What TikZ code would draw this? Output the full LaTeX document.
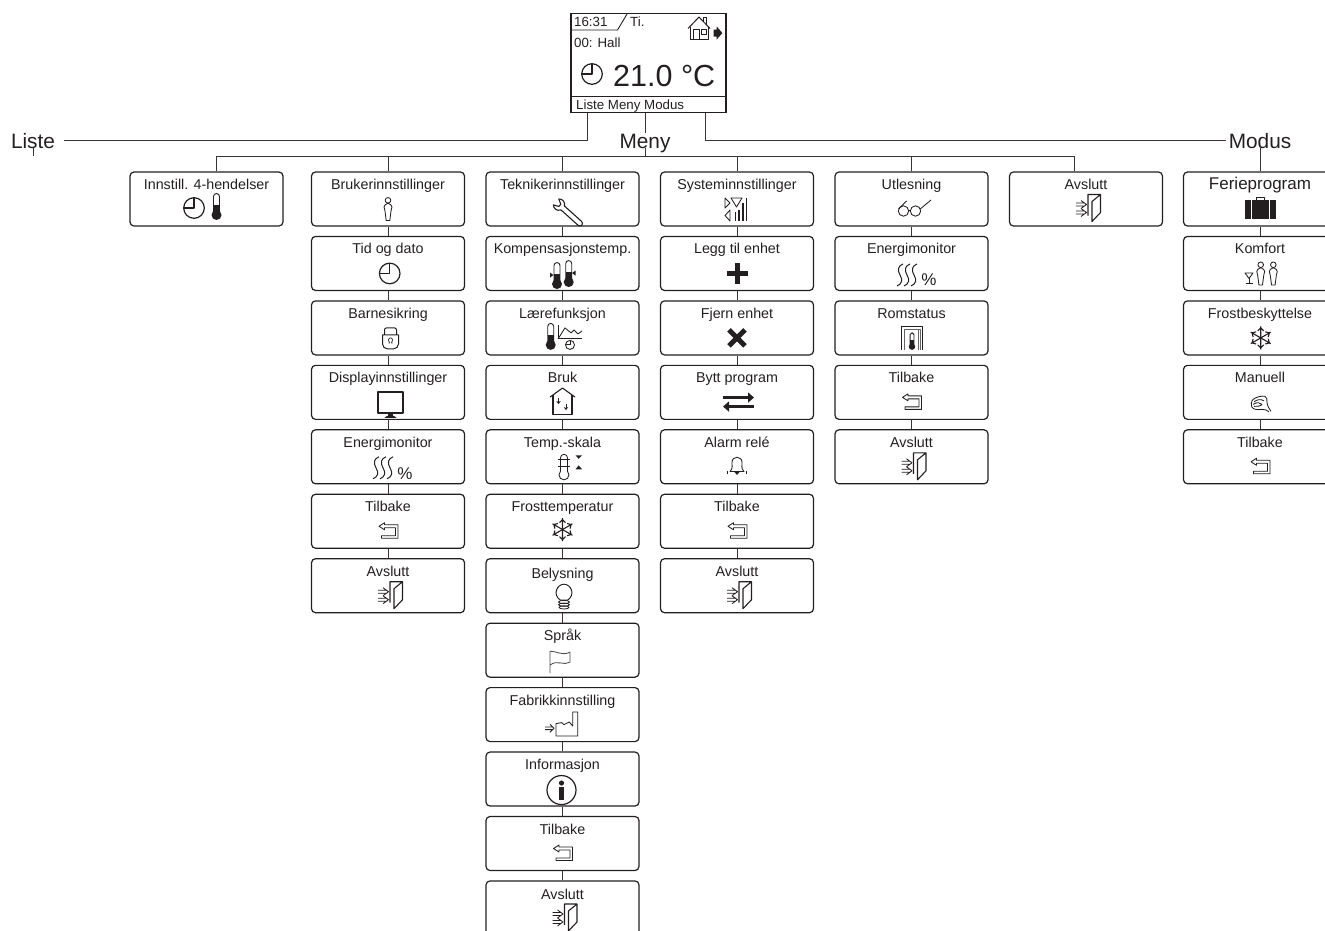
\documentclass[tikz,border=0pt]{standalone}
\usepackage{fontspec}
\setmainfont{Liberation Sans}
\usepackage{tikz}
\usetikzlibrary{arrows.meta, positioning}
\definecolor{ink}{HTML}{231F20}
\tikzstyle{link}=[line width=0.9pt, color=ink!90]
\tikzstyle{icon}=[line width=1.1pt, color=ink, line join=round]
\tikzstyle{iconthin}=[line width=0.85pt, color=ink, line join=round]

% Icons, each drawn round its own middle
\tikzset{
  clockicon/.pic={
    \draw[icon, line width=1.2pt] (0,0) circle[radius=10.3];
    \draw[icon] (0,10) -- (0,0) -- (-10,0);
  },
  thermoicon/.pic={
    \draw[iconthin, line width=0.9pt] (-3,-5) -- (-3,10.5) arc[start angle=180, end angle=0, radius=3] -- (3,-5);
    \fill[ink] (-3,2) rectangle (3,-7);
    \fill[ink] (0,-8) circle[radius=5];
  },
  personicon/.pic={
    \draw[iconthin] (0,8.7) circle[radius=2.8];
    \draw[iconthin] (0,5.8) .. controls (-5.5,4) and (-4,0) .. (-3,-2) -- (-1.8,-11.5) -- (1.8,-11.5) -- (3,-2) .. controls (4,0) and (5.5,4) .. cycle;
  },
  wrenchicon/.pic={
    \draw[icon, rotate=-42] (-3,-2.6) -- (20,-2.6) arc[start angle=-90, end angle=90, radius=2.6] -- (-3,2.6)
      .. controls (-5,6.5) and (-10,6.5) .. (-12,4) -- (-7,1.5) -- (-7,-1.5) -- (-12,-4)
      .. controls (-10,-6.5) and (-5,-6.5) .. cycle;
  },
  signalicon/.pic={
    \draw[iconthin] (-11.5,11) -- (-11.5,1) -- (-6.5,6) -- cycle;
    \draw[iconthin] (-6.5,-1) -- (-6.5,-12) -- (-11.5,-6.5) -- cycle;
    \draw[iconthin] (-5.5,11) -- (5.5,11) -- (0,2) -- cycle;
    \draw[icon, line width=1.3pt] (-1,-12) -- (-1,-3) (2.5,-12) -- (2.5,-1) (6.5,-12) -- (6.5,6) (10.3,-12) -- (10.3,11);
  },
  plusicon/.pic={
    \draw[ink, line width=5pt] (-10.5,0) -- (10.5,0) (0,-10.5) -- (0,10.5);
  },
  crossicon/.pic={
    \draw[ink, line width=5pt] (-8,8) -- (8,-8) (-8,-8) -- (8,8);
  },
  swapicon/.pic={
    \draw[ink, line width=2.4pt, -{Triangle[length=6pt, width=10pt]}] (-15.5,4.5) -- (15.5,4.5);
    \draw[ink, line width=2.4pt, -{Triangle[length=6pt, width=10pt]}] (15.5,-4.5) -- (-15.5,-4.5);
  },
  bellicon/.pic={
    \draw[iconthin] (-7,-5) .. controls (-4,-2) and (-5,1) .. (-5,4) .. controls (-5,11) and (5,11) .. (5,4)
      .. controls (5,1) and (4,-2) .. (7,-5) -- cycle;
    \fill[ink] (-2.5,-5.5) -- (2.5,-5.5) -- (0,-8.5) -- cycle;
    \draw[iconthin] (-9.5,-4) arc[start angle=160, end angle=200, radius=5];
    \draw[iconthin] (9.5,-4) arc[start angle=20, end angle=-20, radius=5];
  },
  backicon/.pic={
    \draw[iconthin] (-9.5,4.5) -- (-4,8) -- (-4,6) -- (9.5,6) -- (9.5,-7.5) -- (-7,-7.5) -- (-7,-5) -- (7,-5) -- (7,3) -- (-4,3) -- (-4,1) -- cycle;
  },
  dooricon/.pic={
    \draw[icon] (-1,-7) -- (-1,14) -- (11.5,14) -- (11.5,-4) -- (3,-13) -- (3,7) -- (11.5,14);
    \draw[iconthin] (-13,5.5) -- (-5,5.5) (-13,2.5) -- (-5,2.5) (-8,8) -- (-2.5,4) -- (-8,0);
    \draw[iconthin] (-13,-2.5) -- (-5,-2.5) (-13,-5.5) -- (-5,-5.5) (-8,0) -- (-2.5,-4) -- (-8,-8);
  },
  lockicon/.pic={
    \draw[iconthin, line width=1pt] (-6,3) -- (-6,8) arc[start angle=180, end angle=90, radius=2] -- (4,10)
      arc[start angle=90, end angle=0, radius=2] -- (6,3);
    \draw[iconthin, line width=1pt] (-8,3) -- (8,3) -- (8,-6) arc[start angle=0, end angle=-90, radius=5] -- (-3,-11)
      arc[start angle=-90, end angle=-180, radius=5] -- cycle;
    \draw[iconthin, line width=0.7pt] (-2,-5) -- (-1,-5) -- (-2,-2) arc[start angle=180, end angle=0, radius=2] -- (1,-5) -- (2,-5);
  },
  screenicon/.pic={
    \draw[icon, line width=1.9pt] (-12.7,10.5) rectangle (12.7,-10);
    \fill[ink] (-2.5,-11) rectangle (2.5,-13);
    \fill[ink] (-6,-15) -- (-3.5,-13) -- (3.5,-13) -- (6,-15) -- cycle;
  },
  wavesicon/.pic={
    \draw[iconthin, line width=1pt] (-4,11) .. controls (-9,9) and (-10,5) .. (-7,0) .. controls (-4,-5) and (-5,-9) .. (-10,-11);
    \draw[iconthin, line width=1pt] (3,11) .. controls (-2,9) and (-3,5) .. (0,0) .. controls (3,-5) and (2,-9) .. (-3,-11);
    \draw[iconthin, line width=1pt] (10,11) .. controls (5,9) and (4,5) .. (7,0) .. controls (10,-5) and (9,-9) .. (4,-11);
  },
  twothermoicon/.pic={
    \pic at (-6,-2) {thermoicon};
    \pic at (5.7,0) {thermoicon};
    \fill[ink] (-13,1.5) -- (-9.5,-1) -- (-13,-3.5) -- cycle;
    \fill[ink] (12.5,3.5) -- (9,1) -- (12.5,-1.5) -- cycle;
  },
  learnicon/.pic={
    \pic at (-14.3,0) {thermoicon};
    \draw[iconthin] (-7,12) -- (-7,-2) -- (17,-2);
    \draw[iconthin] (-7,-2) -- (0,9) -- (6,4) -- (9,7) -- (13,3) -- (17,6);
    \draw[iconthin] (5,-8) circle[radius=4.5];
    \draw[iconthin] (5,-4) -- (5,-8) -- (1,-8);
  },
  houseicon/.pic={
    \draw[icon] (-12.5,4) -- (0,13) -- (12.5,4);
    \draw[icon] (-9.5,6) -- (-9.5,-13) -- (9.5,-13) -- (9.5,6);
    \draw[iconthin, -{Stealth[length=3pt, width=4.5pt]}] (-4,3) -- (-4,-3);
    \draw[iconthin, -{Stealth[length=3pt, width=4.5pt]}] (3.5,-3) -- (3.5,-9);
  },
  scaleicon/.pic={
    \draw[iconthin] (-3.5,-4.5) -- (-3.5,9) arc[start angle=180, end angle=0, radius=3.5] -- (3.5,-4.5)
      arc[start angle=45, end angle=-225, radius=5] -- cycle;
    \draw[iconthin] (-6,7) -- (6,7) (-6,0) -- (6,0);
    \fill[ink] (11.5,11.5) -- (18,11.5) -- (14.7,8) -- cycle;
    \fill[ink] (11.5,-2.5) -- (18,-2.5) -- (14.7,1.5) -- cycle;
  },
  frosticon/.pic={
    \foreach \ang in {30,90,150,210,270,330}
      \draw[iconthin, line width=1.1pt, rotate=\ang] (0,0) -- (11.5,0) (7,3) -- (10,0) -- (7,-3);
  },
  bulbicon/.pic={
    \draw[iconthin, line width=0.95pt] (-3.5,-3.5) .. controls (-12,2) and (-7,12.5) .. (0,12.5)
      .. controls (7,12.5) and (12,2) .. (3.5,-3.5) -- cycle;
    \draw[iconthin] (0,-5.3) ellipse[x radius=5.5, y radius=1.6];
    \draw[iconthin] (0,-8) ellipse[x radius=5.5, y radius=1.6];
    \draw[iconthin] (0,-10.7) ellipse[x radius=5, y radius=1.6];
  },
  flagicon/.pic={
    \draw[iconthin, color=ink!80] (-10,-11) -- (-10,11) .. controls (-3,11) and (2,6) .. (10,10) -- (10,0)
      .. controls (4,-4) and (-3,3) .. (-10,-3);
  },
  factoryicon/.pic={
    \draw[iconthin] (-5,4.7) -- (0.7,5.7) -- (3,3.7) -- (8.3,6.3) -- (11.7,2.3) -- (11.7,16.3) -- (16.7,16.3) -- (16.7,-7.7) -- (-5,-7.7) -- cycle;
    \draw[iconthin] (-16,1.3) -- (-8,1.3) (-16,-1.3) -- (-8,-1.3) (-11,4) -- (-7,0) -- (-11,-4);
  },
  infoicon/.pic={
    \draw[icon, line width=1.2pt] (0,0) circle[radius=14.5];
    \fill[ink] (0,7) circle[radius=2.6];
    \fill[ink] (-2.4,3) rectangle (2.4,-10);
  },
  glassesicon/.pic={
    \draw[iconthin] (-10.5,-2) circle[radius=5.2] (1.5,-2) circle[radius=5.2];
    \draw[iconthin] (-5.5,-1) -- (-3.5,-1);
    \draw[iconthin] (6.2,0) -- (17,9);
    \draw[iconthin] (-15.5,0) -- (-7.5,8);
  },
  caseicon/.pic={
    \fill[ink] (-15.5,9.5) rectangle (15.5,-10);
    \draw[icon] (-4,9.5) -- (-4,11.5) -- (4,11.5) -- (4,9.5);
    \draw[white, line width=0.6pt] (-9,9.5) -- (-9,-10) (9,9.5) -- (9,-10);
  },
  partyicon/.pic={
    \pic at (0.7,1) {personicon};
    \pic at (13.3,1) {personicon};
    \draw[iconthin] (-15,1.5) -- (-7,1.5) -- (-11,-4) -- cycle;
    \draw[iconthin] (-11,-4) -- (-11,-9) (-14.5,-9) -- (-7.5,-9);
  },
  handicon/.pic={
    \draw[iconthin] (10,-7) .. controls (8,-4) and (6.5,-2) .. (6,2) .. controls (6,5) and (6,7) .. (4,8)
      .. controls (0,9) and (-5,7) .. (-8,5) .. controls (-10,3) and (-10,-1) .. (-9,-3)
      .. controls (-7,-5.5) and (-3,-5.5) .. (1,-5) .. controls (4,-5) and (7,-6) .. (8,-7.5);
    \draw[iconthin] (-7,2.5) .. controls (-4,5) and (0,5.5) .. (3,3.5);
    \draw[iconthin] (-8,0) .. controls (-4,2.5) and (-1,2) .. (1,0) .. controls (0,-2) and (-4,-2) .. (-7,-2);
  },
  roomicon/.pic={
    \draw[iconthin] (-10.5,-11.5) -- (-10.5,11.5) -- (10.5,11.5) -- (10.5,-11.5);
    \draw[iconthin, color=ink!70] (-8,-11.5) -- (-8,9) -- (8,9) -- (8,-11.5);
    \draw[iconthin, color=ink!70] (6,-11.5) -- (6,9);
    \pic[scale=0.65] at (0,-3) {thermoicon};
  },
  homeicon/.pic={
    \draw[iconthin, line width=1pt] (-11,4) -- (0,15.5) -- (11,4);
    \draw[iconthin] (-9,5.5) -- (-9,-6.5) -- (9,-6.5) -- (9,5.5);
    \draw[iconthin] (-6,-6.5) -- (-6,3) -- (0.5,3) -- (0.5,-6.5);
    \draw[iconthin] (2,3) rectangle (7,-2);
    \draw[iconthin] (4,11) -- (4,15.5) -- (7,15.5) -- (7,8);
    \fill[ink] (14.7,3) -- (17.7,3) -- (17.7,6) -- (23.4,-0.5) -- (17.7,-7) -- (17.7,-4) -- (14.7,-4) -- cycle;
  }
}

\begin{document}
\begin{tikzpicture}[x=1pt, y=1pt, node distance=9.25pt,
  menubox/.style={rectangle, rounded corners=4pt, draw=ink, line width=1.2pt,
                  minimum width=153pt, text height=13.5pt, text depth=32.5pt,
                  inner ysep=4pt, inner xsep=1pt, align=center, text=ink,
                  font=\fontsize{14.3}{16}\selectfont},
  bigbox/.style={menubox, font=\fontsize{17}{19}\selectfont},
  branch/.style={text=ink, text height=15pt, text depth=0pt, inner ysep=0pt,
                 inner xsep=3pt, font=\fontsize{20.8}{23}\selectfont},
  screentext/.style={text=ink, inner sep=0pt, anchor=base west,
                     font=\fontsize{13.3}{15}\selectfont},
  pct/.style={text=ink, inner sep=0pt, font=\fontsize{17}{19}\selectfont}
]
\useasboundingbox (0,0) rectangle (1325,-930);

% Display at the top
\node[rectangle, draw=ink, line width=1.2pt, minimum width=155pt, minimum height=99.5pt] (display) at (648.5,-63) {};
\node[screentext] (disptime) at (574,-26.5) {16:31};
\node[screentext] (dispday) at (630,-26.5) {Ti.};
\node[screentext] (disproom) at (574,-47) {00: Hall};
\node[screentext, font=\fontsize{30.5}{33}\selectfont] (disptemp) at (613,-86) {21.0 °C};
\node[screentext] (dispmenu) at (576,-109) {Liste Meny Modus};
\draw[icon] (571,-96.7) -- (726,-96.7);
\draw[iconthin, line width=0.9pt] (571,-30) -- (617.5,-30) -- (627,-14);
\pic at (592,-74) {clockicon};
\pic at (699,-32.5) {homeicon};

% Branch labels
\node[branch, inner xsep=9pt] (liste) at (33,-140.7) {Liste};
\node[branch] (meny) at (645,-140.7) {Meny};
\node[branch] (modus) at (1260,-140.7) {Modus};
\coordinate (listeend) at (33,-156);
\coordinate (menybar) at (645,-156);

% Column 1: Liste
\node[menubox] (hendelser) at (206.5,-199) {Innstill. 4-hendelser};
\pic at ([xshift=-12.5,yshift=-9]hendelser.center) {clockicon};
\pic at ([xshift=10,yshift=-8]hendelser.center) {thermoicon};

% Column 2: Brukerinnstillinger
\node[menubox] (bruker) at (388,-199) {Brukerinnstillinger};
\node[menubox, below=of bruker] (tid) {Tid og dato};
\node[menubox, below=of tid] (barne) {Barnesikring};
\node[menubox, below=of barne] (skjerm) {Displayinnstillinger};
\node[menubox, below=of skjerm] (energi) {Energimonitor};
\node[menubox, below=of energi] (tilbakeA) {Tilbake};
\node[menubox, below=of tilbakeA] (avsluttA) {Avslutt};
\pic at ([yshift=-10]bruker.center) {personicon};
\pic at ([xshift=1.7,yshift=-10]tid.center) {clockicon};
\pic at ([xshift=2.5,yshift=-10]barne.center) {lockicon};
\pic at ([xshift=2.5,yshift=-10.5]skjerm.center) {screenicon};
\pic at ([xshift=-5,yshift=-11]energi.center) {wavesicon};
\node[pct] (pctA) at ([xshift=17,yshift=-17]energi.center) {\%};
\pic at ([xshift=0.5,yshift=-9.5]tilbakeA.center) {backicon};
\pic at ([xshift=3,yshift=-10]avsluttA.center) {dooricon};

% Column 3: Teknikerinnstillinger
\node[menubox] (tekniker) at (562.5,-199) {Teknikerinnstillinger};
\node[menubox, below=of tekniker] (kompens) {Kompensasjonstemp.};
\node[menubox, below=of kompens] (laere) {Lærefunksjon};
\node[menubox, below=of laere] (bruk) {Bruk};
\node[menubox, below=of bruk] (skala) {Temp.-skala};
\node[menubox, below=of skala] (frosttemp) {Frosttemperatur};
\node[menubox, below=of frosttemp, text height=16pt, text depth=30pt] (belys) {Belysning};
\node[menubox, below=of belys] (spraak) {Språk};
\node[menubox, below=of spraak] (fabrikk) {Fabrikkinnstilling};
\node[menubox, below=of fabrikk] (info) {Informasjon};
\node[menubox, below=of info] (tilbakeB) {Tilbake};
\node[menubox, below=of tilbakeB, text height=15pt, text depth=31pt] (avsluttB) {Avslutt};
\pic at ([xshift=2.5,yshift=-11]tekniker.center) {wrenchicon};
\pic at ([xshift=0.5,yshift=-10.6]kompens.center) {twothermoicon};
\pic at ([xshift=2.5,yshift=-9]laere.center) {learnicon};
\pic at ([yshift=-8.7]bruk.center) {houseicon};
\pic at ([xshift=1.5,yshift=-10]skala.center) {scaleicon};
\pic at ([yshift=-8.3]frosttemp.center) {frosticon};
\pic at ([xshift=1.5,yshift=-11]belys.center) {bulbicon};
\pic at ([xshift=-2.5,yshift=-12]spraak.center) {flagicon};
\pic at ([xshift=-1.5,yshift=-13.7]fabrikk.center) {factoryicon};
\pic at ([xshift=-1,yshift=-11]info.center) {infoicon};
\pic at ([xshift=0.5,yshift=-9.5]tilbakeB.center) {backicon};
\pic at ([xshift=3,yshift=-10]avsluttB.center) {dooricon};

% Column 4: Systeminnstillinger
\node[menubox] (system) at (737,-199) {Systeminnstillinger};
\node[menubox, below=of system] (legg) {Legg til enhet};
\node[menubox, below=of legg] (fjern) {Fjern enhet};
\node[menubox, below=of fjern] (bytt) {Bytt program};
\node[menubox, below=of bytt] (alarm) {Alarm relé};
\node[menubox, below=of alarm] (tilbakeC) {Tilbake};
\node[menubox, below=of tilbakeC] (avsluttC) {Avslutt};
\pic at ([xshift=-0.5,yshift=-10]system.center) {signalicon};
\pic at ([xshift=0.5,yshift=-9.6]legg.center) {plusicon};
\pic at ([yshift=-10]fjern.center) {crossicon};
\pic at ([xshift=1.5,yshift=-9.7]bytt.center) {swapicon};
\pic at ([yshift=-9.7]alarm.center) {bellicon};
\pic at ([xshift=0.5,yshift=-9.5]tilbakeC.center) {backicon};
\pic at ([xshift=3,yshift=-10]avsluttC.center) {dooricon};

% Column 5: Utlesning
\node[menubox] (utles) at (911.5,-199) {Utlesning};
\node[menubox, below=of utles] (energiB) {Energimonitor};
\node[menubox, below=of energiB] (romstatus) {Romstatus};
\node[menubox, below=of romstatus] (tilbakeD) {Tilbake};
\node[menubox, below=of tilbakeD] (avsluttD) {Avslutt};
\pic at ([xshift=2.5,yshift=-10]utles.center) {glassesicon};
\pic at ([xshift=-4.5,yshift=-11.5]energiB.center) {wavesicon};
\node[pct] (pctB) at ([xshift=17.4,yshift=-16.5]energiB.center) {\%};
\pic at ([xshift=0.5,yshift=-10.5]romstatus.center) {roomicon};
\pic at ([xshift=0.5,yshift=-9.5]tilbakeD.center) {backicon};
\pic at ([xshift=3,yshift=-10]avsluttD.center) {dooricon};

% Column 6: Avslutt
\node[menubox] (avsluttE) at (1086,-199) {Avslutt};
\pic at ([xshift=3,yshift=-9.5]avsluttE.center) {dooricon};

% Column 7: Modus
\node[bigbox] (ferie) at (1260,-199) {Ferieprogram};
\node[menubox, below=of ferie] (komfort) {Komfort};
\node[menubox, below=of komfort] (frost) {Frostbeskyttelse};
\node[menubox, below=of frost] (manuell) {Manuell};
\node[menubox, below=of manuell] (tilbakeF) {Tilbake};
\pic at ([xshift=0.5,yshift=-10]ferie.center) {caseicon};
\pic at ([yshift=-11]komfort.center) {partyicon};
\pic at ([xshift=0.7,yshift=-10]frost.center) {frosticon};
\pic at ([xshift=1,yshift=-12]manuell.center) {handicon};
\pic at ([xshift=0.5,yshift=-9.5]tilbakeF.center) {backicon};

% Lines out of the display
\draw[link] (display.south -| 587,0) |- (liste.east);
\draw[link] (liste.south) -- (listeend);
\draw[link] (display.south -| meny) -- (meny.north);
\draw[link] (meny.south) -- (menybar);
\draw[link] (display.south -| 705,0) |- (modus.west);
\draw[link] (modus) -- (ferie);

% Bar under Meny
\draw[link] (menybar) -| ([xshift=9.5]hendelser.north);
\draw[link] (menybar) -| (bruker.north);
\draw[link] (menybar) -| (tekniker.north);
\draw[link] (menybar) -| (system.north);
\draw[link] (menybar) -| (utles.north);
\draw[link] (menybar) -| ([xshift=-12]avsluttE.north);

% Vertical links inside the columns
\draw[link] (bruker) -- (tid) (tid) -- (barne) (barne) -- (skjerm) (skjerm) -- (energi) (energi) -- (tilbakeA) (tilbakeA) -- (avsluttA);
\draw[link] (tekniker) -- (kompens) (kompens) -- (laere) (laere) -- (bruk) (bruk) -- (skala) (skala) -- (frosttemp) (frosttemp) -- (belys);
\draw[link] (belys) -- (spraak) (spraak) -- (fabrikk) (fabrikk) -- (info) (info) -- (tilbakeB) (tilbakeB) -- (avsluttB);
\draw[link] (system) -- (legg) (legg) -- (fjern) (fjern) -- (bytt) (bytt) -- (alarm) (alarm) -- (tilbakeC) (tilbakeC) -- (avsluttC);
\draw[link] (utles) -- (energiB) (energiB) -- (romstatus) (romstatus) -- (tilbakeD) (tilbakeD) -- (avsluttD);
\draw[link] (ferie) -- (komfort) (komfort) -- (frost) (frost) -- (manuell) (manuell) -- (tilbakeF);
\end{tikzpicture}
\end{document}
